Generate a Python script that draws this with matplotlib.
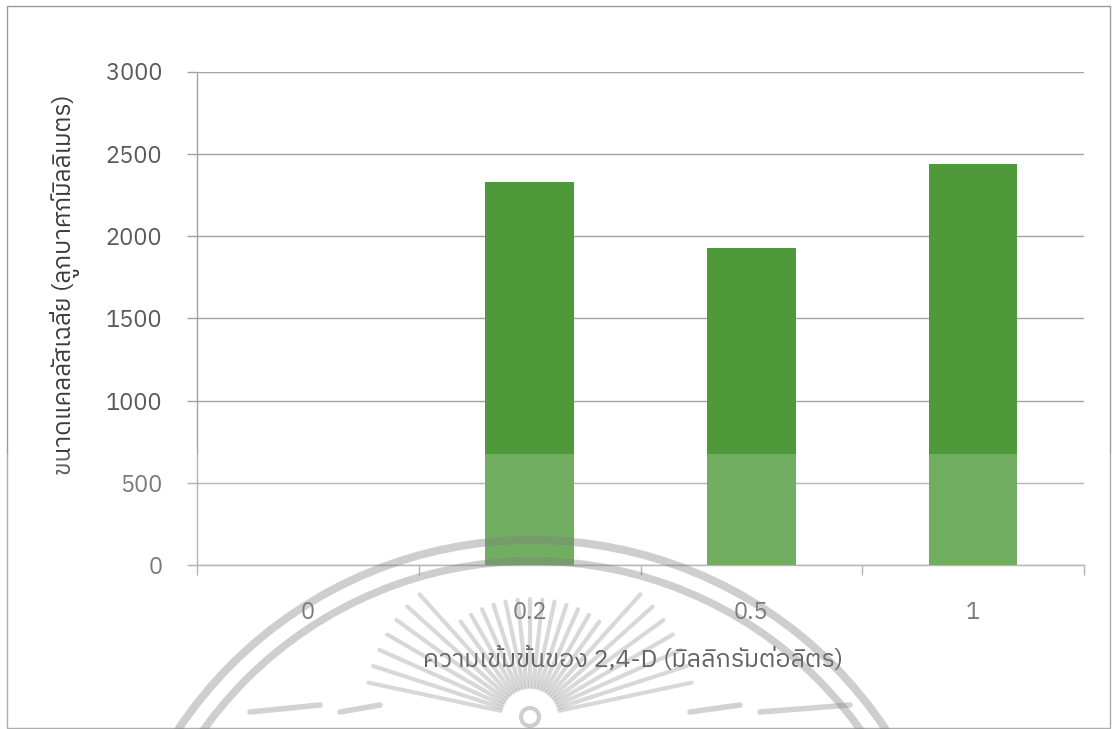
import matplotlib
matplotlib.use("Agg")
import matplotlib.pyplot as plt
import numpy as np
from matplotlib import font_manager
from matplotlib.patches import Arc, Circle, Rectangle
from fontTools.ttLib import TTFont

# =========================
# Data
# =========================
concentrations = ["0", "0.2", "0.5", "1"]
callus_size = [0, 2330, 1930, 2440]

x_title = "ความเข้มข้นของ 2,4-D (มิลลิกรัมต่อลิตร)"
y_title = "ขนาดแคลลัสเฉลี่ย (ลูกบาศก์มิลลิเมตร)"
y_ticks = [0, 500, 1000, 1500, 2000, 2500, 3000]


# =========================
# Font with Thai glyphs
# =========================
def find_thai_family():
    fonts = sorted(font_manager.fontManager.ttflist,
                   key=lambda f: (0 if "thai" in f.name.lower() else 1, f.weight != 400))
    for f in fonts:
        try:
            cmap = TTFont(f.fname, fontNumber=0, lazy=True).getBestCmap()
        except Exception:
            continue
        if cmap and 0x0E01 in cmap:
            return f.name
    return None


thai = find_thai_family()
families = [thai, "DejaVu Sans"] if thai else ["DejaVu Sans"]
plt.rcParams["font.family"] = families

W, H = 1114, 729
fig = plt.figure(figsize=(W / 100, H / 100), dpi=100)
ax = fig.add_axes([197 / W, 1 - 565 / H, 887 / W, 493.5 / H])

bar_green = "#4e9a3a"
grid_grey = "#a3a3a3"
label_grey = "#595959"

x = np.arange(len(concentrations))
ax.bar(x, callus_size, width=0.4, color=bar_green, zorder=3)

ax.set_xlim(-0.5, len(concentrations) - 0.5)
ax.set_ylim(0, 3000)
ax.set_yticks(y_ticks)
ax.set_yticklabels([str(v) for v in y_ticks])
ax.yaxis.grid(True, color=grid_grey, linewidth=1.0, zorder=0)
ax.set_axisbelow(True)

# category labels centred, tick marks between categories
ax.set_xticks(x)
ax.set_xticklabels(concentrations)
ax.set_xticks(np.arange(-0.5, len(concentrations)), minor=True)
ax.tick_params(axis="x", which="major", length=0, pad=26, labelsize=17, labelcolor=label_grey)
ax.tick_params(axis="x", which="minor", length=7, width=1, color=grid_grey, direction="out")
ax.tick_params(axis="y", length=7, width=1, color=grid_grey, pad=18, labelsize=17, labelcolor=label_grey)

for side in ["top", "right"]:
    ax.spines[side].set_visible(False)
for side in ["left", "bottom"]:
    ax.spines[side].set_color(grid_grey)
    ax.spines[side].set_linewidth(1.0)

fig.text(633 / W, 1 - 660 / H, x_title, ha="center", va="center", fontsize=18, color="#3a3a3a")
fig.text(65 / W, 1 - 285 / H, y_title, ha="center", va="center", rotation=90, fontsize=17.5, color="#3a3a3a")

# =========================
# Overlay: frame, faint seal and light lower band
# =========================
ov = fig.add_axes([0, 0, 1, 1], zorder=5)
ov.set_xlim(0, W)
ov.set_ylim(H, 0)
ov.axis("off")
ov.patch.set_alpha(0)

ov.add_patch(Rectangle((7, 6), 1103, 722, fill=False, edgecolor="#9a9a9a", linewidth=1.0))
ov.add_patch(Rectangle((0, 454), W, H - 454, facecolor="white", alpha=0.2, edgecolor="none"))

seal = (0.5, 0.5, 0.5)
cx, cy = 532, 965
ov.add_patch(Arc((cx, cy), 2 * 425, 2 * 425, theta1=180, theta2=360,
                 color=seal, alpha=0.38, linewidth=5.8))
ov.add_patch(Arc((cx, cy), 2 * 404, 2 * 404, theta1=180, theta2=360,
                 color=seal, alpha=0.38, linewidth=5.5))

sx, sy = 530, 717
ov.add_patch(Circle((sx, sy), 9, fill=False, edgecolor=seal, alpha=0.38, linewidth=3))
for ang in np.linspace(12, 168, 27):
    a = np.deg2rad(ang)
    r0 = 30
    r1 = 118 if abs(ang - 90) < 40 else 165
    ov.plot([sx + r0 * np.cos(a), sx + r1 * np.cos(a)],
            [sy - r0 * np.sin(a), sy - r1 * np.sin(a)],
            color=seal, alpha=0.3, linewidth=3, solid_capstyle="round")
for x0, x1 in [(250, 320), (340, 380), (690, 740), (760, 850)]:
    ov.plot([x0, x1], [712, 705], color=seal, alpha=0.35, linewidth=4, solid_capstyle="round")

fig.savefig("out.png", dpi=100)
